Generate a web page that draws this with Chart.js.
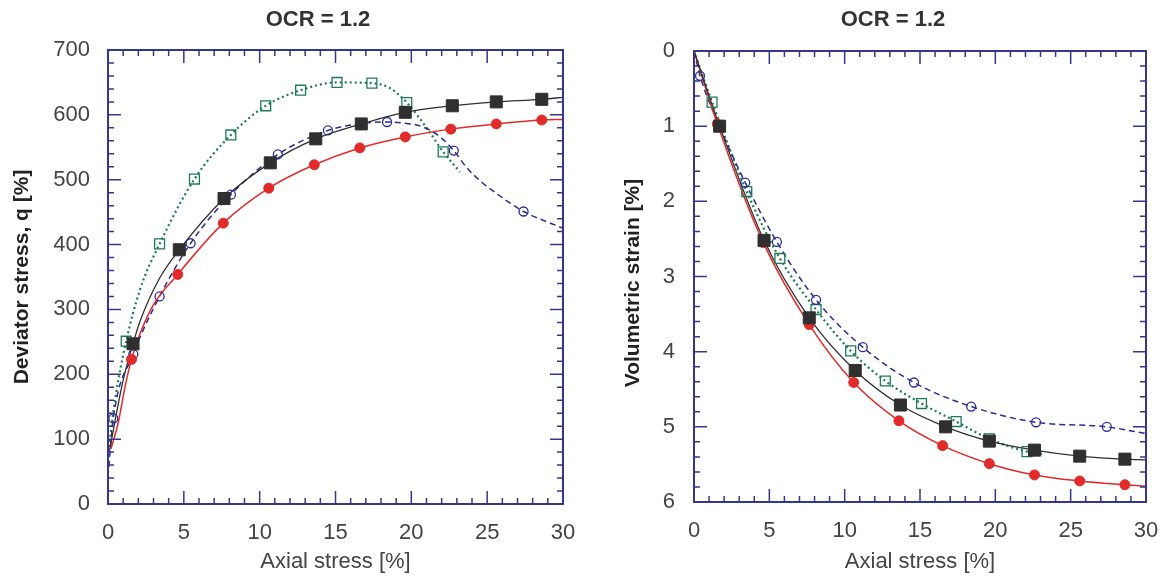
<!DOCTYPE html>
<html>
<head>
<meta charset="utf-8">
<script src="https://cdn.jsdelivr.net/npm/chart.js@4/dist/chart.umd.min.js"></script>
<style>
  body { margin: 0; background: #fff; }
  #wrap { position: relative; width: 1169px; height: 581px; }
  canvas { position: absolute; top: 0; }
</style>
</head>
<body>
<div id="wrap">
  <canvas id="left" width="620" height="581" style="left:0px"></canvas>
  <canvas id="right" width="552" height="581" style="left:617px"></canvas>
</div>
<script>
// ---- left panel: deviator stress q vs axial strain ----
var redQX = [1.55, 4.6, 7.6, 10.6, 13.6, 16.6, 19.6, 22.6, 25.6, 28.6];
var redQ = [223, 354, 433, 487, 523, 549, 566, 578, 586, 592];
var redQLineX = [0.2, 0.7, 1.1, 1.55, 2.8, 4.6, 7.6, 10.6, 13.6, 16.6, 19.6, 22.6, 25.6, 28.6, 30];
var redQLine = [85, 128, 178, 223, 299, 354, 433, 487, 523, 549, 566, 578, 586, 592, 593];

var blackQX = [1.65, 4.7, 7.65, 10.7, 13.7, 16.7, 19.6, 22.7, 25.6, 28.6];
var blackQ = [247, 392, 471, 526, 563, 586, 604, 614, 620, 624];
var blackQLineX = [0.1, 1.0, 1.65, 2.1, 3.4, 4.7, 7.65, 10.7, 13.7, 16.7, 19.6, 22.7, 25.6, 28.6, 30];
var blackQLine = [83, 191, 247, 281, 348, 392, 471, 526, 563, 586, 604, 614, 620, 624, 627];

var blueQX = [0.35, 1.67, 3.4, 5.45, 8.1, 11.2, 14.5, 18.4, 22.8, 27.4];
var blueQ = [132, 231, 320, 402, 477, 539, 576, 589, 545, 451];
var blueQLineX = [0, 0.35, 1.67, 3.4, 5.45, 8.1, 11.2, 14.5, 16.5, 18.4, 19.6, 20.7, 21.9, 22.8, 23.6, 24.7, 25.6, 27.4, 29.7, 30];
var blueQLine = [42, 132, 231, 320, 402, 477, 539, 576, 586, 589, 587, 582, 566, 545, 520, 495, 479, 451, 428, 425];

var greenQX = [1.2, 3.4, 5.7, 8.1, 10.4, 12.7, 15.1, 17.4, 19.7, 22.1];
var greenQ = [251, 401, 501, 569, 614, 638, 650, 649, 619, 543];
var greenQLineX = [0, 0.46, 1.2, 2.1, 3.4, 5.7, 8.1, 10.4, 12.7, 15.1, 17.4, 18.6, 19.7, 21.1, 22.1, 23.2];
var greenQLine = [73, 160, 251, 330, 401, 501, 569, 614, 638, 650, 649, 641, 619, 577, 543, 512];

// ---- right panel: volumetric strain vs axial strain ----
var redVX = [1.55, 4.6, 7.65, 10.6, 13.6, 16.5, 19.6, 22.6, 25.6, 28.6];
var redV = [0.97, 2.55, 3.64, 4.41, 4.92, 5.25, 5.49, 5.64, 5.72, 5.77];
var redVLineX = [0, 1.55, 4.6, 7.65, 10.6, 13.6, 16.5, 19.6, 22.6, 25.6, 28.6, 30];
var redVLine = [0, 0.97, 2.55, 3.64, 4.41, 4.92, 5.25, 5.49, 5.64, 5.72, 5.77, 5.79];

var blackVX = [1.7, 4.65, 7.65, 10.7, 13.7, 16.7, 19.6, 22.6, 25.6, 28.6];
var blackV = [1.0, 2.52, 3.55, 4.25, 4.71, 5.0, 5.19, 5.31, 5.39, 5.43];
var blackVLineX = [0, 1.7, 4.65, 7.65, 10.7, 13.7, 16.7, 19.6, 22.6, 25.6, 28.6, 30];
var blackVLine = [0, 1.0, 2.52, 3.55, 4.25, 4.71, 5.0, 5.19, 5.31, 5.39, 5.43, 5.44];

var blueVX = [0.4, 1.67, 3.4, 5.5, 8.1, 11.2, 14.6, 18.4, 22.7, 27.4];
var blueV = [0.33, 0.99, 1.75, 2.54, 3.31, 3.94, 4.41, 4.73, 4.94, 5.0];
var blueVLineX = [0, 0.4, 1.67, 3.4, 5.5, 8.1, 11.2, 14.6, 18.4, 22.7, 27.4, 30];
var blueVLine = [0, 0.33, 0.99, 1.75, 2.54, 3.31, 3.94, 4.41, 4.73, 4.94, 5.0, 5.09];

var greenVX = [1.2, 3.5, 5.7, 8.1, 10.4, 12.7, 15.1, 17.4, 19.6, 22.1];
var greenV = [0.68, 1.87, 2.76, 3.44, 3.99, 4.39, 4.69, 4.93, 5.16, 5.33];
var greenVLineX = [0, 1.2, 3.5, 5.7, 8.1, 10.4, 12.7, 15.1, 17.4, 19.6, 22.1, 23.1];
var greenVLine = [0, 0.68, 1.87, 2.76, 3.44, 3.99, 4.39, 4.69, 4.93, 5.16, 5.33, 5.36];

var xTicks = [0, 5, 10, 15, 20, 25, 30];

var RED = "#e12a2a";
var BLACK = "#2f2f2f";
var BLUE = "#2b2d92";
var GREEN = "#1c7a55";
var FRAME = "#36378c";
var FONT = "'Liberation Sans', Arial, sans-serif";

function pts(xs, ys) {
  return xs.map(function (x, i) { return { x: x, y: ys[i] }; });
}

// frame + inward ticks on all four sides, the panel title and the rotated y title
var boxTicks = {
  id: "boxTicks",
  afterDraw: function (chart, args, o) {
    var ctx = chart.ctx, a = chart.chartArea;
    var xs = chart.scales.x, ys = chart.scales.y;
    ctx.save();
    ctx.strokeStyle = FRAME;
    ctx.lineWidth = 1.5;
    ctx.beginPath();
    for (var i = 0; i <= o.xCount; i++) {
      var px = xs.getPixelForValue(xs.min + i * o.xStep);
      var len = i % o.xMajor === 0 ? 13 : 6;
      ctx.moveTo(px, a.bottom); ctx.lineTo(px, a.bottom - len);
      ctx.moveTo(px, a.top); ctx.lineTo(px, a.top + len);
    }
    for (var j = 0; j <= o.yCount; j++) {
      var py = ys.getPixelForValue(o.yMin + j * o.yStep);
      var l2 = j % o.yMajor === 0 ? 13 : 6;
      ctx.moveTo(a.left, py); ctx.lineTo(a.left + l2, py);
      ctx.moveTo(a.right, py); ctx.lineTo(a.right - l2, py);
    }
    ctx.stroke();
    ctx.lineWidth = 2;
    ctx.strokeRect(a.left, a.top, a.right - a.left, a.bottom - a.top);

    // panel title
    ctx.fillStyle = "#333";
    ctx.font = "bold 22px " + FONT;
    ctx.textAlign = "center";
    ctx.textBaseline = "middle";
    ctx.fillText(o.head, o.headX, 20);

    // y axis title
    ctx.translate(o.titleX, o.titleY);
    ctx.rotate(-Math.PI / 2);
    ctx.fillStyle = "#222";
    ctx.font = "bold 21px " + FONT;
    ctx.fillText(o.title, 0, 0);
    ctx.restore();
  },
};

function lineSet(xs, ys, color, dash, width, order) {
  return {
    data: pts(xs, ys),
    showLine: true,
    borderColor: color,
    borderWidth: width,
    borderDash: dash,
    pointRadius: 0,
    cubicInterpolationMode: "monotone",
    order: order,
  };
}

function markSet(xs, ys, color, style, radius, filled, order) {
  return {
    data: pts(xs, ys),
    showLine: false,
    pointStyle: style,
    pointRadius: radius,
    pointBorderColor: color,
    pointBackgroundColor: filled ? color : "rgba(0,0,0,0)",
    pointBorderWidth: filled ? 1 : 1.3,
    order: order,
  };
}

function makeChart(id, datasets, y, padTop, yWidth, xHeight, padRight, boxOpts) {
  return new Chart(document.getElementById(id), {
    type: "scatter",
    data: { datasets: datasets },
    plugins: [boxTicks],
    options: {
      responsive: false,
      animation: false,
      layout: { padding: { right: padRight, left: 0, top: padTop, bottom: 0 } },
      plugins: {
        legend: { display: false },
        tooltip: { enabled: false },
        boxTicks: boxOpts,
      },
      scales: {
        x: {
          type: "linear",
          min: 0,
          max: 30,
          afterBuildTicks: function (s) { s.ticks = xTicks.map(function (v) { return { value: v }; }); },
          afterFit: function (s) { s.height = xHeight; },
          grid: { display: false },
          border: { display: false },
          ticks: { color: "#444", padding: 8, font: { family: FONT, size: 22 }, maxRotation: 0 },
          title: {
            display: true,
            text: "Axial stress [%]",
            color: "#444",
            font: { family: FONT, size: 22 },
            padding: { top: 0, bottom: 6 },
          },
        },
        y: Object.assign({
          type: "linear",
          afterFit: function (s) { s.width = yWidth; },
          grid: { display: false },
          border: { display: false },
        }, y),
      },
    },
  });
}

makeChart("left", [
  markSet(blackQX, blackQ, BLACK, "rect", 8.5, true, 0),
  markSet(redQX, redQ, RED, "circle", 5, true, 1),
  markSet(blueQX, blueQ, BLUE, "circle", 4.5, false, 2),
  markSet(greenQX, greenQ, GREEN, "rect", 7, false, 3),
  lineSet(blackQLineX, blackQLine, BLACK, [], 1.3, 5),
  lineSet(redQLineX, redQLine, RED, [], 1.5, 6),
  lineSet(blueQLineX, blueQLine, BLUE, [6, 4], 1.5, 7),
  lineSet(greenQLineX, greenQLine, GREEN, [2, 3], 2.2, 8),
], {
  min: 0,
  max: 700,
  ticks: { stepSize: 100, color: "#444", padding: 10, font: { family: FONT, size: 22 } },
}, 50, 108, 77, 620 - 563,
{ xCount: 30, xStep: 1, xMajor: 5, yMin: 0, yCount: 35, yStep: 20, yMajor: 5,
  head: "OCR = 1.2", headX: 318,
  title: "Deviator stress, q [%]", titleX: 22, titleY: 277 });

makeChart("right", [
  markSet(blackVX, blackV, BLACK, "rect", 8.5, true, 0),
  markSet(redVX, redV, RED, "circle", 5, true, 1),
  markSet(blueVX, blueV, BLUE, "circle", 4.5, false, 2),
  markSet(greenVX, greenV, GREEN, "rect", 7, false, 3),
  lineSet(blackVLineX, blackVLine, BLACK, [], 1.3, 5),
  lineSet(redVLineX, redVLine, RED, [], 1.5, 6),
  lineSet(blueVLineX, blueVLine, BLUE, [6, 4], 1.5, 7),
  lineSet(greenVLineX, greenVLine, GREEN, [2, 3], 2.2, 8),
], {
  min: 0,
  max: 6,
  reverse: true,
  ticks: { stepSize: 1, color: "#444", padding: 11, font: { family: FONT, size: 22 } },
}, 51, 77, 79, 23,
{ xCount: 30, xStep: 1, xMajor: 5, yMin: 0, yCount: 30, yStep: 0.2, yMajor: 5,
  head: "OCR = 1.2", headX: 276,
  title: "Volumetric strain [%]", titleX: 16, titleY: 283 });
</script>
</body>
</html>
